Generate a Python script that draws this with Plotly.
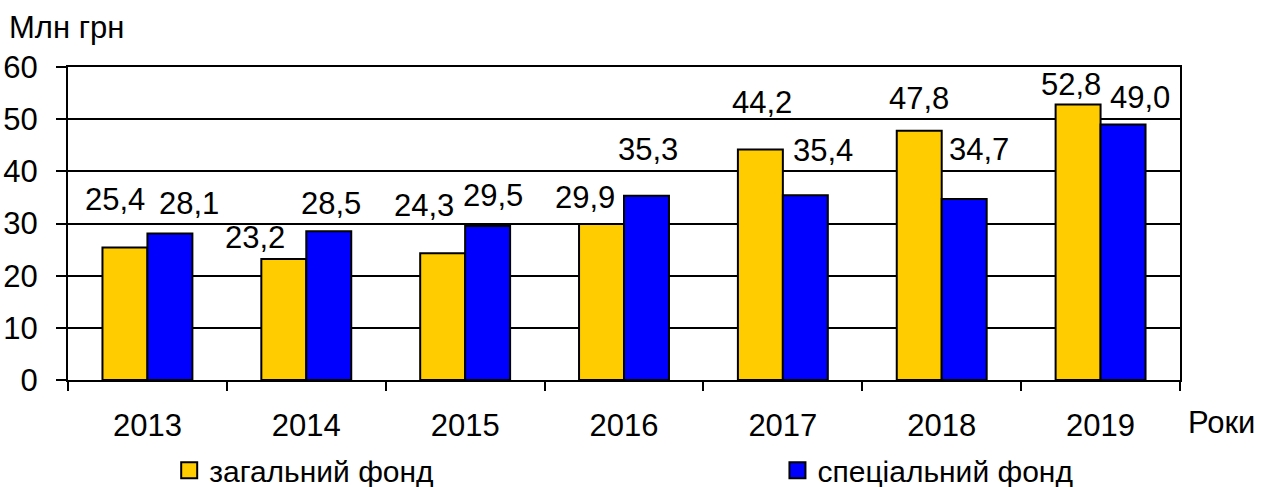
import plotly.graph_objects as go

years = ["2013", "2014", "2015", "2016", "2017", "2018", "2019"]
general_fund = [25.4, 23.2, 24.3, 29.9, 44.2, 47.8, 52.8]
special_fund = [28.1, 28.5, 29.5, 35.3, 35.4, 34.7, 49.0]
general_labels = ["25,4", "23,2", "24,3", "29,9", "44,2", "47,8", "52,8"]
special_labels = ["28,1", "28,5", "29,5", "35,3", "35,4", "34,7", "49,0"]
series_names = ["загальний фонд", "спеціальний фонд"]

# label placement offsets (pixels) relative to bar top-center
gen_dx = [-10, -29, -18, -16, 2, 0, -7]
gen_dy = [48, 21, 48, 27, 47, 32, 20]
spe_dx = [19, 2, 5, 1, 17, 15, 17]
spe_dy = [30, 28, 31, 46, 45, 49, 27]

FONT = "Liberation Sans, Arial, sans-serif"
YELLOW = "#FFCC00"
BLUE = "#0000FF"
BAR_HALF = 22.75
NUM_SIZE = 31
TXT_SIZE = 31
LEG_SIZE = 30

fig = go.Figure()
fig.add_trace(go.Bar(x=years, y=general_fund, name=series_names[0],
                     marker=dict(color=YELLOW, line=dict(color="black", width=2)),
                     showlegend=False))
fig.add_trace(go.Bar(x=years, y=special_fund, name=series_names[1],
                     marker=dict(color=BLUE, line=dict(color="black", width=2)),
                     showlegend=False))
# legend entries (no visible points)
fig.add_trace(go.Scatter(x=[years[0]], y=[None], mode="markers", name=series_names[0],
                         legend="legend",
                         marker=dict(symbol="square", size=18, color=YELLOW,
                                     line=dict(color="black", width=2))))
fig.add_trace(go.Scatter(x=[years[0]], y=[None], mode="markers", name=series_names[1],
                         legend="legend2",
                         marker=dict(symbol="square", size=18, color=BLUE,
                                     line=dict(color="black", width=2))))

annotations = []
for i, yr in enumerate(years):
    annotations.append(dict(x=i, y=general_fund[i], xref="x", yref="y",
                            text=general_labels[i], showarrow=False,
                            xshift=-BAR_HALF + gen_dx[i], yshift=gen_dy[i],
                            yanchor="middle", xanchor="center",
                            font=dict(family=FONT, size=NUM_SIZE, color="black")))
    annotations.append(dict(x=i, y=special_fund[i], xref="x", yref="y",
                            text=special_labels[i], showarrow=False,
                            xshift=BAR_HALF + spe_dx[i], yshift=spe_dy[i],
                            yanchor="middle", xanchor="center",
                            font=dict(family=FONT, size=NUM_SIZE, color="black")))

annotations.append(dict(x=-0.055, y=1.125, xref="paper", yref="paper",
                        text="Млн грн", showarrow=False, xanchor="left", yanchor="middle",
                        font=dict(family=FONT, size=TXT_SIZE, color="black")))
annotations.append(dict(x=1.005, y=-0.137, xref="paper", yref="paper",
                        text="Роки", showarrow=False, xanchor="left", yanchor="middle",
                        font=dict(family=FONT, size=TXT_SIZE, color="black")))

legend_common = dict(orientation="h", yanchor="middle", y=-0.288,
                     font=dict(family=FONT, size=LEG_SIZE, color="black"),
                     bgcolor="rgba(0,0,0,0)", itemsizing="trace")

fig.update_layout(
    width=1266, height=487,
    margin=dict(l=68, r=86, t=67, b=107, autoexpand=False),
    paper_bgcolor="white", plot_bgcolor="white",
    barmode="group", bargap=0.434, bargroupgap=0,
    font=dict(family=FONT, size=TXT_SIZE, color="black"),
    annotations=annotations,
    legend=dict(x=0.091, xanchor="left", **legend_common),
    legend2=dict(x=0.638, xanchor="left", **legend_common),
    xaxis=dict(type="category", range=[-0.5, 6.5], showline=True, linecolor="black",
               linewidth=2, mirror=True, ticks="outside", tickson="boundaries", ticklen=9,
               tickwidth=2, tickcolor="black", showgrid=False, automargin=False,
               tickfont=dict(family=FONT, size=NUM_SIZE, color="black"),
               ticklabelstandoff=17),
    yaxis=dict(range=[0, 60], dtick=10, showline=True, linecolor="black", linewidth=2,
               mirror=True, ticks="outside", ticklen=10, tickwidth=2, tickcolor="black",
               showgrid=True, gridcolor="black", gridwidth=2, zeroline=False,
               automargin=False,
               tickfont=dict(family=FONT, size=NUM_SIZE, color="black"),
               ticklabelstandoff=12),
)

fig.write_html("out.html",
               config={"displayModeBar": False},
               post_script="document.body.style.margin='0';"
                           "document.body.style.overflow='hidden';")
